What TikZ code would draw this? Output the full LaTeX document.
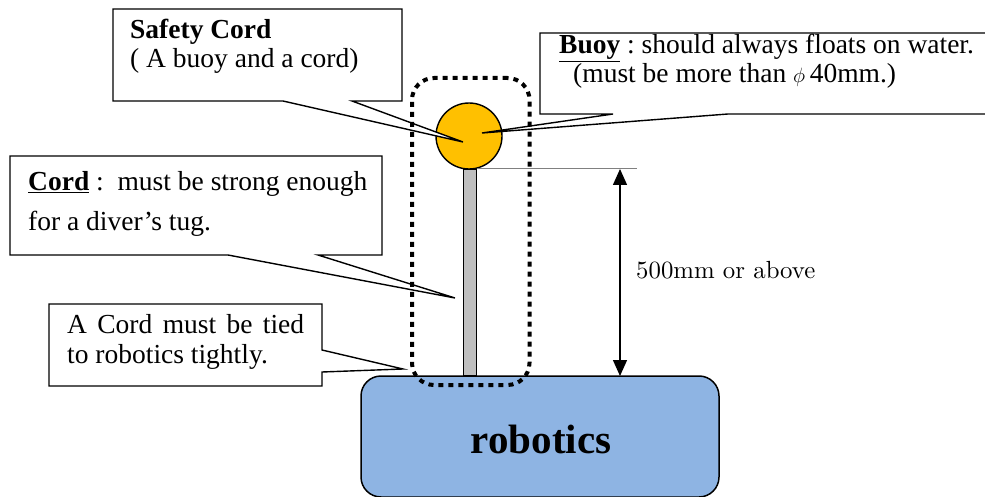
\documentclass[tikz,border=0pt]{standalone}
\usepackage{fontspec}
\newfontfamily\tnr{Liberation Serif}
\newfontfamily\lmten{lmroman10-regular}[Extension=.otf]
\usetikzlibrary{arrows.meta, positioning}
\definecolor{buoyorange}{HTML}{FFC000}
\definecolor{robotblue}{HTML}{8EB4E3}
\definecolor{cordgray}{HTML}{BFBFBF}

\begin{document}
\begin{tikzpicture}[
    x=1pt, y=-1pt,
    note/.style={inner sep=0pt, outer sep=0pt, anchor=north west},
    callout/.style={draw, fill=white, line width=1.4pt},
    txt/.style={anchor=base west, inner sep=0pt, font=\tnr\fontsize{27.5}{30}\selectfont},
    dim/.style={{Triangle[length=16pt,width=14pt]}-{Triangle[length=16pt,width=14pt]}, line width=1.4pt}
]
\useasboundingbox (0,0) rectangle (985,497);
\clip (0,0) rectangle (985,497);

% Robotics and safety cord
\node[draw, fill=robotblue, line width=1.5pt, rounded corners=20pt, outer sep=0pt,
      minimum width=358pt, minimum height=121pt, anchor=north west] (robot) at (361,376) {};
\node[anchor=base, inner sep=0pt, font=\tnr\bfseries\fontsize{41}{44}\selectfont] (robotlabel) at (541,453) {robotics};
\node[draw, fill=cordgray, line width=1.2pt, minimum width=13pt, minimum height=207pt,
      inner sep=0pt, outer sep=0pt, anchor=north] (rod) at (470,169) {};
\node[circle, draw, fill=buoyorange, line width=1.4pt, minimum size=66pt, inner sep=0pt] (buoy) at (469,136) {};

% Dimension
\coordinate (ext) at (637,169);
\coordinate (dimtop) at (620,169);
\draw[gray, line width=1pt] (rod.north east) -- (ext);
\draw[dim] (dimtop) -- (dimtop |- robot.north);
\node[anchor=base west, inner sep=0pt, font=\lmten\fontsize{24.8}{28}\selectfont] (dimlabel) at (636,278) {500mm or above};

% Callouts
\node[note, minimum width=289pt, minimum height=92pt] (safety) at (113,9) {};
\node[note, minimum width=460pt, minimum height=81pt] (buoynote) at (540,33) {};
\node[note, minimum width=372pt, minimum height=99pt] (cordnote) at (10,156) {};
\node[note, minimum width=273pt, minimum height=82pt] (tiednote) at (49,304) {};
\coordinate (safetytip) at (463,142);
\coordinate (buoytip) at (482,133);
\coordinate (cordtip) at (455,298);
\coordinate (tiedtip) at (403,369);

\draw[callout] (safety.south west) -- ([xshift=170pt]safety.south west) -- (safetytip)
    -- ([xshift=239pt]safety.south west) -- (safety.south east) -- (safety.north east)
    -- (safety.north west) -- cycle;
\draw[callout] (buoynote.south west) -- ([xshift=73pt]buoynote.south west) -- (buoytip)
    -- ([xshift=188pt]buoynote.south west) -- (buoynote.south east) -- (buoynote.north east)
    -- (buoynote.north west) -- cycle;
\draw[callout] (cordnote.south west) -- ([xshift=218pt]cordnote.south west) -- (cordtip)
    -- ([xshift=308pt]cordnote.south west) -- (cordnote.south east) -- (cordnote.north east)
    -- (cordnote.north west) -- cycle;
\draw[callout] (tiednote.north west) -- (tiednote.north east) -- ([yshift=-46pt]tiednote.north east)
    -- (tiedtip) -- ([yshift=-68pt]tiednote.north east) -- (tiednote.south east)
    -- (tiednote.south west) -- cycle;

% Dotted frame round the safety cord
\node[draw, line width=4pt, dash pattern=on 5pt off 5pt, rounded corners=22pt, inner sep=0pt, outer sep=0pt,
      minimum width=117.5pt, minimum height=307pt, anchor=north west] (frame) at (412,78) {};

% Texts
\node[txt, font=\tnr\bfseries\fontsize{27.5}{30}\selectfont] (safetyhead) at (130,39) {Safety Cord};
\node[txt] (safetysub) at (130,68) {( A buoy and a cord)};
\node[txt] (buoyhead) at (559,54) {\underline{\textbf{Buoy}}\ :\ should always floats on water.};
\node[txt] (buoysub) at (573,83) {(must be more than {\fontsize{20}{20}\selectfont$\phi$}\,40mm.)};
\node[txt] (cordhead) at (28,191) {\underline{\textbf{Cord}}\ :\ \ must be strong enough};
\node[txt] (cordsub) at (28,230) {for a diver’s tug.};
\node[txt] (tiedhead) at (67,333) {\makebox[237pt][s]{A Cord must be tied}};
\node[txt] (tiedsub) at (67,363) {to robotics tightly.};

\end{tikzpicture}
\end{document}
